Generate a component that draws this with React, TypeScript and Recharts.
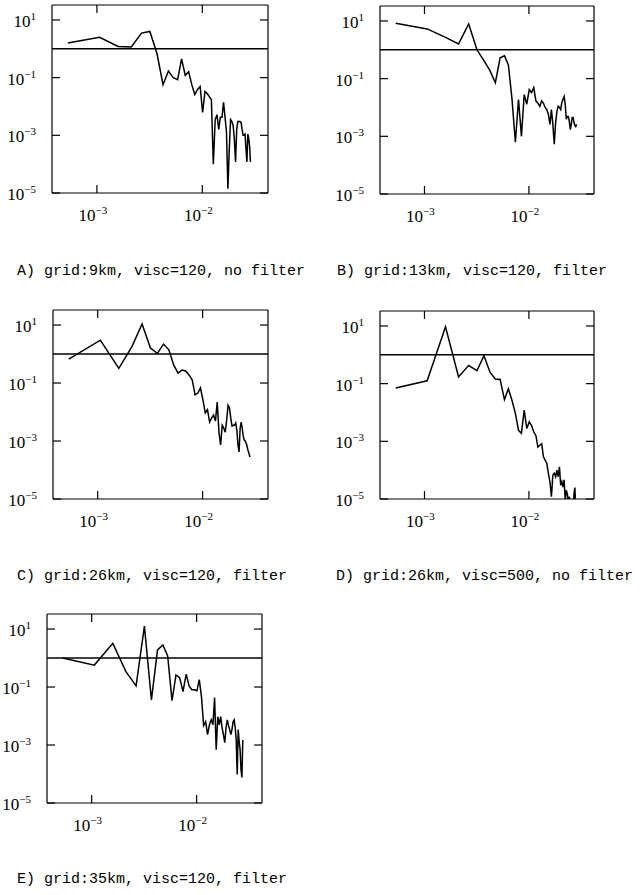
import React from "react";
import { LineChart, Line, XAxis, YAxis, ReferenceLine } from "recharts";

// wavenumber of each spectral point
const K = [
  0.00053, 0.00106, 0.00159, 0.00212, 0.00265, 0.00318, 0.00371, 0.00424, 0.00477, 0.0053,
  0.00583, 0.00636, 0.00689, 0.00742, 0.00795, 0.00848, 0.00901, 0.00954, 0.01007, 0.0106,
  0.01113, 0.01166, 0.01219, 0.01272, 0.01325, 0.01378, 0.01431, 0.01484, 0.01537, 0.0159,
  0.01643, 0.01696, 0.01749, 0.01802, 0.01855, 0.01908, 0.01961, 0.02014, 0.02067, 0.0212,
  0.02173, 0.02226, 0.02279, 0.02332, 0.02385, 0.02438, 0.02491, 0.02544, 0.02597, 0.0265,
  0.02703, 0.02756, 0.02809, 0.02862,
];

const SPEC_A = [
  1.6, 2.5, 1.2, 1.15, 3.5, 4.0, 0.7, 0.057, 0.17, 0.1,
  0.085, 0.45, 0.12, 0.16, 0.057, 0.026, 0.039, 0.049, 0.0062, 0.033,
  0.028, 0.022, 0.017, 0.0001, 0.0035, 0.0052, 0.0016, 0.0042, 0.0042, 0.014,
  0.0042, 0.0013, 0.000014, 0.00033, 0.0035, 0.003, 0.0022, 0.00072, 0.00012, 0.0016,
  0.003, 0.003, 0.003, 0.0028, 0.0016, 0.001, 0.001, 0.0011, 0.00033, 0.00012,
  0.0011, 0.0008, 0.00042, 0.00012,
];

const SPEC_B = [
  8.3, 5.3, 2.7, 1.6, 7.9, 1.0, 0.42, 0.19, 0.072, 0.53,
  0.62, 0.3, 0.019, 0.00062, 0.019, 0.001, 0.028, 0.013, 0.042, 0.033,
  0.049, 0.017, 0.014, 0.011, 0.017, 0.014, 0.01, 0.0085, 0.0057, 0.0026,
  0.0085, 0.0026, 0.00053, 0.003, 0.0073, 0.011, 0.01, 0.0085, 0.015, 0.019,
  0.024, 0.013, 0.0039, 0.0049, 0.0049, 0.0033, 0.0017, 0.0026, 0.0045, 0.0045,
  0.003, 0.0024, 0.0022, 0.0026,
];

const SPEC_C = [
  0.67, 3.0, 0.32, 1.8, 10.8, 1.6, 1.05, 2.2, 1.4, 0.42,
  0.22, 0.28, 0.26, 0.19, 0.13, 0.039, 0.045, 0.068, 0.026, 0.0093,
  0.012, 0.0045, 0.0062, 0.0079, 0.0049, 0.022, 0.002, 0.00073, 0.0035, 0.0028,
  0.002, 0.0053, 0.017, 0.014, 0.0062, 0.0033, 0.0035, 0.0035, 0.0042, 0.0024,
  0.00073, 0.00042, 0.0028, 0.0045, 0.0028, 0.0015, 0.0011, 0.001, 0.00085, 0.00067,
  0.00049, 0.00039, 0.0003, 0.0003,
];

const SPEC_D = [
  0.071, 0.126, 9.3, 0.17, 0.43, 0.28, 0.93, 0.25, 0.145, 0.14,
  0.028, 0.066, 0.026, 0.0093, 0.0024, 0.0019, 0.012, 0.0028, 0.0047, 0.0035,
  0.0021, 0.0016, 0.00063, 0.00073, 0.00083, 0.00029, 0.00022, 0.00017, 0.000078, 0.00004,
  0.000012, 0.000068, 0.000078, 0.000059, 0.0001, 0.000059, 0.00013, 0.00003, 0.00004, 0.000026,
  0.000046, 0.000009, 0.00002, 0.000015, 0.000008, 0.000012, 0.000006, 0.000005, 0.000008, 0.000005,
  0.000015, 0.000025, 0.000004,
];

const SPEC_E = [
  1.0, 0.57, 3.2, 0.34, 0.11, 12.7, 0.036, 1.9, 2.8, 1.18,
  0.034, 0.26, 0.21, 0.069, 0.28, 0.11, 0.08, 0.08, 0.074, 0.18,
  0.046, 0.0047, 0.0064, 0.0023, 0.005, 0.0074, 0.005, 0.043, 0.00069, 0.0095,
  0.005, 0.0095, 0.004, 0.0023, 0.0012, 0.004, 0.0074, 0.0047, 0.0034, 0.0023,
  0.0034, 0.0064, 0.0074, 0.004, 0.0015, 0.000096, 0.0034, 0.0013, 0.00069, 0.00014,
  0.000076, 0.0015,
];

const CAPTIONS = [
  "A) grid:9km, visc=120, no filter",
  "B) grid:13km, visc=120, filter",
  "C) grid:26km, visc=120, filter",
  "D) grid:26km, visc=500, no filter",
  "E) grid:35km, visc=120, filter",
];

const X_TICKS = [0.001, 0.01];
const Y_TICKS = [10, 0.1, 0.001, 0.00001];
const X_DOMAIN = [0.000375, 0.042];
const Y_DOMAIN = [0.00001, 33];

const LW = 52;
const BH = 34;
const SERIF = "'Liberation Serif', 'DejaVu Serif', serif";
const MONO = "'Liberation Mono', 'DejaVu Sans Mono', monospace";

const panels = [
  { box: { x: 52, y: 5, w: 216, h: 188 }, values: SPEC_A, cap: { x: 17, y: 276 } },
  { box: { x: 380, y: 6, w: 214, h: 188 }, values: SPEC_B, cap: { x: 337, y: 276 } },
  { box: { x: 53, y: 310, w: 215, h: 189 }, values: SPEC_C, cap: { x: 17, y: 581 } },
  { box: { x: 380, y: 311, w: 214, h: 188 }, values: SPEC_D, cap: { x: 336, y: 581 } },
  { box: { x: 47, y: 614, w: 215, h: 189 }, values: SPEC_E, cap: { x: 17, y: 884 } },
];

function expText(v: number) {
  const e = Math.round(Math.log10(v));
  return e < 0 ? `\u2212${-e}` : `${e}`;
}

function Pow({ x, y, v, anchor }: { x: number; y: number; v: number; anchor: string }) {
  return (
    <text x={x} y={y} textAnchor={anchor} fontFamily={SERIF} fontSize={17} fill="#000">
      10
      <tspan dy={-7} fontSize={11}>
        {expText(v)}
      </tspan>
    </text>
  );
}

function BottomTick(props: any) {
  const { x, y, payload } = props;
  return (
    <g>
      <line x1={x} y1={y} x2={x} y2={y - 8} stroke="#000" strokeWidth={1.2} />
      <Pow x={x - 4} y={y + 28} v={payload.value} anchor="middle" />
    </g>
  );
}

function TopTick(props: any) {
  const { x, y } = props;
  return <line x1={x} y1={y} x2={x} y2={y + 8} stroke="#000" strokeWidth={1.2} />;
}

function LeftTick(props: any) {
  const { x, y, payload } = props;
  return (
    <g>
      <line x1={x} y1={y} x2={x + 8} y2={y} stroke="#000" strokeWidth={1.2} />
      <Pow x={x - 16} y={y + 7} v={payload.value} anchor="end" />
    </g>
  );
}

function RightTick(props: any) {
  const { x, y } = props;
  return <line x1={x} y1={y} x2={x - 8} y2={y} stroke="#000" strokeWidth={1.2} />;
}

function Panel({ box, values }: { box: { x: number; y: number; w: number; h: number }; values: number[] }) {
  const data = values.map((v, i) => ({ k: K[i], v }));
  const axisLine = { stroke: "#000", strokeWidth: 1.2 };
  return (
    <div style={{ position: "absolute", left: box.x - LW, top: box.y - 1 }}>
      <LineChart
        width={LW + box.w + 1}
        height={1 + box.h + BH}
        data={data}
        margin={{ top: 0, right: 0, bottom: 0, left: 0 }}
      >
        <XAxis
          xAxisId="b"
          dataKey="k"
          type="number"
          scale="log"
          domain={X_DOMAIN}
          allowDataOverflow
          ticks={X_TICKS}
          interval={0}
          height={BH}
          tickSize={0}
          tickMargin={0}
          tickLine={false}
          axisLine={axisLine}
          tick={BottomTick}
        />
        <XAxis
          xAxisId="t"
          orientation="top"
          dataKey="k"
          type="number"
          scale="log"
          domain={X_DOMAIN}
          allowDataOverflow
          ticks={X_TICKS}
          interval={0}
          height={1}
          tickSize={0}
          tickMargin={0}
          tickLine={false}
          axisLine={axisLine}
          tick={TopTick}
        />
        <YAxis
          yAxisId="l"
          type="number"
          scale="log"
          domain={Y_DOMAIN}
          allowDataOverflow
          ticks={Y_TICKS}
          interval={0}
          width={LW}
          tickSize={0}
          tickMargin={0}
          tickLine={false}
          axisLine={axisLine}
          tick={LeftTick}
        />
        <YAxis
          yAxisId="r"
          orientation="right"
          type="number"
          scale="log"
          domain={Y_DOMAIN}
          allowDataOverflow
          ticks={Y_TICKS}
          interval={0}
          width={1}
          tickSize={0}
          tickMargin={0}
          tickLine={false}
          axisLine={axisLine}
          tick={RightTick}
        />
        <ReferenceLine xAxisId="b" yAxisId="l" y={1} stroke="#000" strokeWidth={1.5} />
        <Line
          xAxisId="b"
          yAxisId="l"
          type="linear"
          dataKey="v"
          stroke="#000"
          strokeWidth={1.5}
          dot={false}
          isAnimationActive={false}
        />
      </LineChart>
    </div>
  );
}

export default function App() {
  return (
    <div style={{ position: "absolute", left: 0, top: 0, width: 643, height: 895, background: "#fff" }}>
      {panels.map((p, i) => (
        <React.Fragment key={i}>
          <Panel box={p.box} values={p.values} />
          <div
            style={{
              position: "absolute",
              left: p.cap.x,
              top: p.cap.y - 12,
              fontFamily: MONO,
              fontSize: 15,
              lineHeight: "15px",
              whiteSpace: "pre",
              color: "#000",
            }}
          >
            {CAPTIONS[i]}
          </div>
        </React.Fragment>
      ))}
    </div>
  );
}
